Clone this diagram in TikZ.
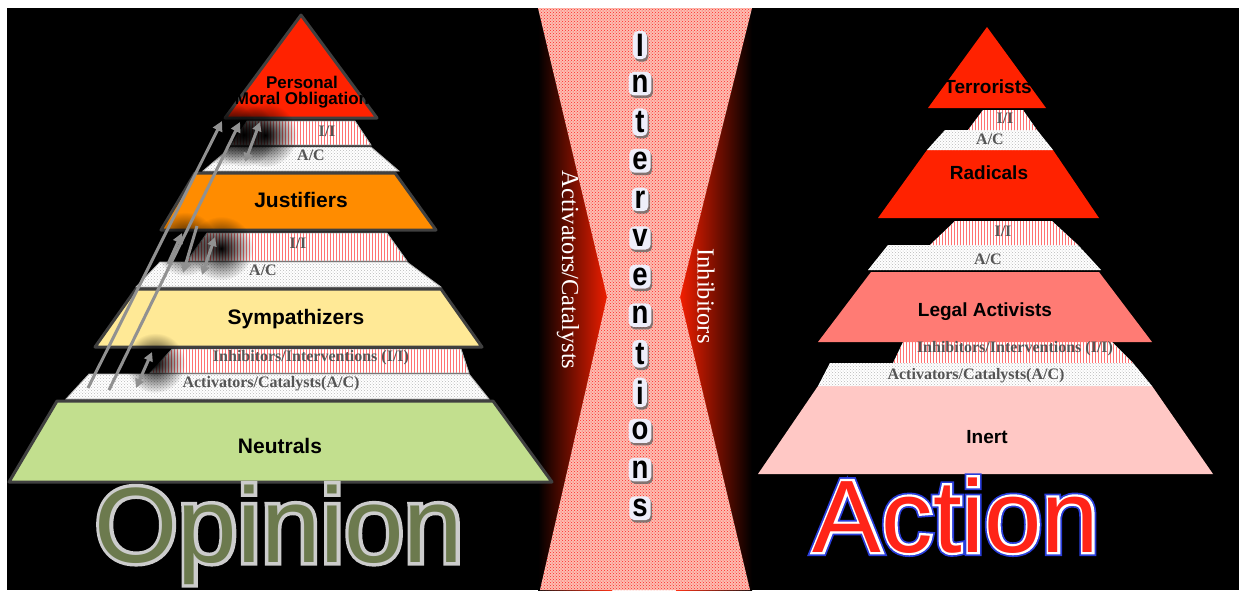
\documentclass[tikz,border=0pt]{standalone}
\usepackage{fontspec}
\setmainfont{Liberation Serif}
\newfontfamily\arialfont{Liberation Sans}
\usetikzlibrary{patterns,shadows,calc,arrows.meta,fadings}

% Text outline through the PDF text render mode
\newcommand\outlinetext[3]{%
  \special{pdf:literal direct 1 Tr #1 w #2 RG}#3\special{pdf:literal direct 0 Tr}}

\tikzfading[name=halofade, inner color=transparent!0, outer color=transparent!100]

\tikzset{
  layer/.style={draw=layerline, line width=3pt, line join=round},
  band/.style={draw=gray!60, line width=0.8pt},
  iiband/.style={band, preaction={fill=white}, pattern=vertical lines, pattern color=red!55},
  acband/.style={band, preaction={fill=white}, pattern=crosshatch dots, pattern color=gray!55},
  bandlabel/.style={font=\bfseries\fontsize{16}{16}\selectfont, text=labelgray, inner sep=0pt},
  mainlabel/.style={font=\arialfont\bfseries\fontsize{21}{21}\selectfont, inner sep=0pt},
  rightlabel/.style={font=\arialfont\bfseries\fontsize{19}{19}\selectfont, inner sep=0pt},
  sidelabel/.style={font=\fontsize{24.5}{24.5}\selectfont, text=white, rotate=-90, inner sep=0pt},
  letterbox/.style={font=\arialfont\bfseries\fontsize{25}{25}\selectfont, fill=letterfill,
    rounded corners=5pt, inner xsep=3pt, inner ysep=3pt,
    drop shadow={shadow xshift=1.5pt, shadow yshift=-2.5pt, fill=black!60, opacity=0.8}},
  arrowline/.style={draw=arrowgray, line width=3pt},
  halo/.style={fill=black, path fading=halofade},
  opinionword/.style={font=\arialfont\fontsize{107}{107}\selectfont, anchor=base, inner sep=0pt},
  actionword/.style={font=\arialfont\fontsize{103}{103}\selectfont, anchor=base, inner sep=0pt}
}

\begin{document}
\begin{tikzpicture}[x=1pt, y=-1pt]
  % Color definitions
  \definecolor{topred}{RGB}{255,34,0}
  \definecolor{justorange}{RGB}{255,140,0}
  \definecolor{sympyellow}{RGB}{255,233,150}
  \definecolor{neutgreen}{RGB}{194,223,142}
  \definecolor{legalsalmon}{RGB}{255,123,116}
  \definecolor{inertpink}{RGB}{255,200,197}
  \definecolor{layerline}{RGB}{64,64,64}
  \definecolor{labelgray}{RGB}{85,85,85}
  \definecolor{arrowgray}{RGB}{145,145,145}
  \definecolor{hgred}{RGB}{255,32,0}
  \definecolor{hgpink}{RGB}{252,190,178}
  \definecolor{opolive}{RGB}{108,122,78}
  \definecolor{actred}{RGB}{255,36,24}
  \definecolor{letterfill}{RGB}{238,238,250}

  \useasboundingbox (0,0) rectangle (1239,590);

  % Background
  \fill[white] (0,0) rectangle (1239,590);
  \fill[black] (7,8) rectangle (1239,590);

  % Center strip with hourglass
  \shade[left color=black, right color=hgred] (538,8) rectangle (612,590);
  \shade[left color=hgred, right color=black] (676,8) rectangle (752,590);
  \fill[hgpink] (538,8) -- (752,8) -- (680,297) -- (750,590) -- (540,590) -- (607,297) -- cycle;
  \fill[pattern=crosshatch dots, pattern color=red!85]
    (538,8) -- (752,8) -- (680,297) -- (750,590) -- (540,590) -- (607,297) -- cycle;

  % Left pyramid (opinion)
  \draw[layer, fill=neutgreen] (57,401) -- (493,401) -- (552,482) -- (9,482) -- cycle;
  \draw[acband] (89,374) -- (469,374) -- (489,399) -- (66,399) -- cycle;
  \draw[iiband] (172,349) -- (461,349) -- (469,373) -- (150,373) -- cycle;
  \draw[layer, fill=sympyellow] (136,289) -- (441,289) -- (482,347) -- (95,347) -- cycle;
  \draw[acband] (160,262) -- (407,262) -- (441,287) -- (136,287) -- cycle;
  \draw[iiband] (207,233) -- (387,233) -- (407,261) -- (187,261) -- cycle;
  \draw[layer, fill=justorange] (195,173) -- (395,173) -- (436,230) -- (161,230) -- cycle;
  \draw[acband] (231,147) -- (371,147) -- (399,171) -- (203,171) -- cycle;
  \draw[iiband] (247,121) -- (355,121) -- (371,145) -- (231,145) -- cycle;
  \draw[layer, fill=topred] (301,15) -- (377,118) -- (225,118) -- cycle;

  % Movement arrows
  \coordinate (l1s) at (88,388);
  \coordinate (l1e) at (222,121);
  \coordinate (l2s) at (109,390);
  \coordinate (l2e) at (240,122);
  \coordinate (d1s) at (136,388);
  \coordinate (d1e) at (152,352);
  \coordinate (m1s) at (168,264);
  \coordinate (m1e) at (182,233);
  \coordinate (m2s) at (197,226);
  \coordinate (m2e) at (183,273);
  \coordinate (d2s) at (202,275);
  \coordinate (d2e) at (215,237);
  \coordinate (d3s) at (245,162);
  \coordinate (d3e) at (260,122);

  % Dark halos round the arrow heads
  \fill[halo] ($(l1e)!14pt!(l1s)+(10,0)$) circle (32);
  \fill[halo] ($(l2e)!14pt!(l2s)+(10,0)$) circle (32);
  \fill[halo] ($(d3e)!14pt!(d3s)+(10,0)$) circle (32);
  \fill[halo] ($(m1e)!12pt!(m1s)+(8,0)$) circle (32);
  \fill[halo] ($(d2e)!12pt!(d2s)+(10,0)$) circle (32);
  \fill[halo] ($(d1e)!12pt!(d1s)+(8,0)$) circle (30);

  \draw[arrowline, -{Triangle[length=10pt,width=10pt]}] (l1s) -- (l1e);
  \draw[arrowline, -{Triangle[length=10pt,width=10pt]}] (l2s) -- (l2e);
  \draw[arrowline, {Triangle[length=9pt,width=9pt]}-{Triangle[length=9pt,width=9pt]}] (d1s) -- (d1e);
  \draw[arrowline, -{Triangle[length=10pt,width=10pt]}] (m1s) -- (m1e);
  \draw[arrowline, -{Triangle[length=10pt,width=10pt]}] (m2s) -- (m2e);
  \draw[arrowline, {Triangle[length=9pt,width=9pt]}-{Triangle[length=9pt,width=9pt]}] (d2s) -- (d2e);
  \draw[arrowline, {Triangle[length=9pt,width=9pt]}-{Triangle[length=9pt,width=9pt]}] (d3s) -- (d3e);

  % Left labels
  \node[font=\arialfont\bfseries\fontsize{17}{16.5}\selectfont, align=center, inner sep=0pt] (pmo) at (302,92) {Personal\\Moral Obligation};
  \node[bandlabel] (lii1) at (327,131) {I/I};
  \node[bandlabel] (lac1) at (311,155) {A/C};
  \node[mainlabel] (just) at (301,200) {Justifiers};
  \node[bandlabel] (lii2) at (298,243) {I/I};
  \node[bandlabel] (lac2) at (263,270) {A/C};
  \node[mainlabel] (symp) at (296,319) {Sympathizers};
  \node[bandlabel] (lii3) at (311,358) {Inhibitors/Interventions (I/I)};
  \node[bandlabel] (lac3) at (271,384) {Activators/Catalysts(A/C)};
  \node[mainlabel] (neut) at (280,446) {Neutrals};

  % Right pyramid (action)
  \fill[inertpink] (818,386) -- (1152,386) -- (1213,474) -- (758,474) -- cycle;
  \draw[acband, draw=none] (830,363) -- (1133,363) -- (1152,386) -- (818,386) -- cycle;
  \draw[iiband, draw=none] (903,342) -- (1112,342) -- (1133,363) -- (893,363) -- cycle;
  \fill[legalsalmon] (871,272) -- (1099,272) -- (1152,342) -- (818,342) -- cycle;
  \draw[acband, draw=none] (888,245) -- (1078,245) -- (1101,270) -- (868,270) -- cycle;
  \draw[iiband, draw=none] (955,221) -- (1052,221) -- (1078,245) -- (930,245) -- cycle;
  \fill[topred] (927,150) -- (1053,150) -- (1099,218) -- (878,218) -- cycle;
  \draw[acband, draw=none] (945,130) -- (1037,130) -- (1053,150) -- (927,150) -- cycle;
  \draw[iiband, draw=none] (983,110) -- (1023,110) -- (1037,130) -- (968,130) -- cycle;
  \fill[topred] (987,27) -- (1046,108) -- (928,108) -- cycle;

  % Right labels
  \node[rightlabel] (terr) at (988,87) {Terrorists};
  \node[bandlabel] (rii1) at (1005,118) {I/I};
  \node[bandlabel] (rac1) at (990,139) {A/C};
  \node[rightlabel] (radi) at (989,173) {Radicals};
  \node[bandlabel] (rii2) at (1003,231) {I/I};
  \node[bandlabel] (rac2) at (988,259) {A/C};
  \node[rightlabel] (legal) at (985,312) {Legal Activists};
  \node[bandlabel] (rii3) at (1015,349) {Inhibitors/Interventions (I/I)};
  \node[bandlabel] (rac3) at (976,376) {Activators/Catalysts(A/C)};
  \node[rightlabel] (inert) at (987,437) {Inert};

  % Opinion and Action titles
  \node[opinionword, text=opolive] (opinion) at (279,562)
    {\rlap{\outlinetext{7}{0.80 0.80 0.80}{Opinion}}Opinion};
  \node[actionword, text=actred] (action) at (956,552)
    {\rlap{\outlinetext{8}{0.16 0.24 0.86}{Action}}\rlap{\outlinetext{4.5}{1 1 1}{Action}}Action};

  % Side labels of the hourglass
  \node[sidelabel] (actcat) at (568,270) {Activators/Catalysts};
  \node[sidelabel] (inhib) at (706,296) {Inhibitors};

  % Interventions column
  \foreach \l [count=\i] in {I,n,t,e,r,v,e,n,t,i,o,n,s} {
    \node[letterbox] (iv\i) at (640,{45+38.6*(\i-1)}) {\scalebox{1.1}[1.3]{\l}};
  }
\end{tikzpicture}
\end{document}
